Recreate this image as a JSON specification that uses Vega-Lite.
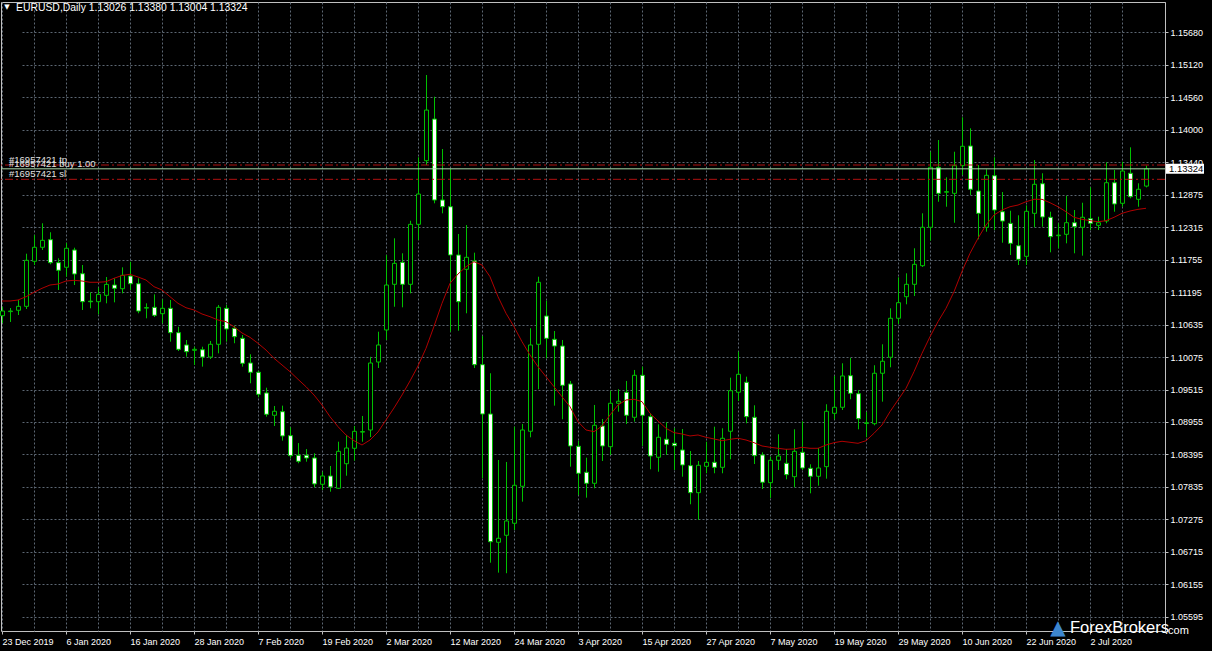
{
  "$schema": "https://vega.github.io/schema/vega-lite/v6.json",
  "width": 1164,
  "height": 629,
  "autosize": {"type": "none"},
  "padding": {"left": 1, "top": 2, "right": 47, "bottom": 20},
  "background": "#000000",
  "config": {
    "view": {"stroke": "#c0c0c0", "strokeWidth": 1},
    "font": "Liberation Sans",
    "axis": {"labelFont": "Liberation Sans"}
  },
  "datasets": {
    "bars": [
      {"d": "23 Dec 2019", "o": 1.10789, "h": 1.10944, "l": 1.10663, "c": 1.10870, "ma": 1.11043},
      {"d": "24 Dec 2019", "o": 1.10860, "h": 1.10922, "l": 1.10681, "c": 1.10870, "ma": 1.11043},
      {"d": "26 Dec 2019", "o": 1.10883, "h": 1.11060, "l": 1.10801, "c": 1.10951, "ma": 1.11060},
      {"d": "27 Dec 2019", "o": 1.10951, "h": 1.11859, "l": 1.10905, "c": 1.11745, "ma": 1.11117},
      {"d": "30 Dec 2019", "o": 1.11728, "h": 1.12182, "l": 1.11664, "c": 1.11970, "ma": 1.11193},
      {"d": "31 Dec 2019", "o": 1.11970, "h": 1.12384, "l": 1.11923, "c": 1.12090, "ma": 1.11262},
      {"d": "2 Jan 2020", "o": 1.12101, "h": 1.12229, "l": 1.11676, "c": 1.11704, "ma": 1.11319},
      {"d": "3 Jan 2020", "o": 1.11704, "h": 1.11780, "l": 1.11233, "c": 1.11573, "ma": 1.11336},
      {"d": "6 Jan 2020", "o": 1.11625, "h": 1.12044, "l": 1.11463, "c": 1.11953, "ma": 1.11388},
      {"d": "7 Jan 2020", "o": 1.11923, "h": 1.11963, "l": 1.11319, "c": 1.11509, "ma": 1.11400},
      {"d": "8 Jan 2020", "o": 1.11514, "h": 1.11664, "l": 1.10888, "c": 1.11031, "ma": 1.11388},
      {"d": "9 Jan 2020", "o": 1.11040, "h": 1.11192, "l": 1.10917, "c": 1.11030, "ma": 1.11366},
      {"d": "10 Jan 2020", "o": 1.11031, "h": 1.11272, "l": 1.10813, "c": 1.11158, "ma": 1.11366},
      {"d": "13 Jan 2020", "o": 1.11141, "h": 1.11457, "l": 1.11003, "c": 1.11330, "ma": 1.11376},
      {"d": "14 Jan 2020", "o": 1.11319, "h": 1.11435, "l": 1.11020, "c": 1.11262, "ma": 1.11435},
      {"d": "15 Jan 2020", "o": 1.11255, "h": 1.11624, "l": 1.11175, "c": 1.11486, "ma": 1.11483},
      {"d": "16 Jan 2020", "o": 1.11474, "h": 1.11721, "l": 1.11233, "c": 1.11341, "ma": 1.11504},
      {"d": "17 Jan 2020", "o": 1.11341, "h": 1.11435, "l": 1.10831, "c": 1.10870, "ma": 1.11457},
      {"d": "20 Jan 2020", "o": 1.10920, "h": 1.11003, "l": 1.10744, "c": 1.10930, "ma": 1.11405},
      {"d": "21 Jan 2020", "o": 1.10934, "h": 1.11158, "l": 1.10767, "c": 1.10796, "ma": 1.11290},
      {"d": "22 Jan 2020", "o": 1.10824, "h": 1.11072, "l": 1.10658, "c": 1.10917, "ma": 1.11233},
      {"d": "23 Jan 2020", "o": 1.10917, "h": 1.11060, "l": 1.10341, "c": 1.10496, "ma": 1.11117},
      {"d": "24 Jan 2020", "o": 1.10496, "h": 1.10599, "l": 1.10180, "c": 1.10209, "ma": 1.11003},
      {"d": "27 Jan 2020", "o": 1.10284, "h": 1.10370, "l": 1.10082, "c": 1.10168, "ma": 1.10927},
      {"d": "28 Jan 2020", "o": 1.10192, "h": 1.10254, "l": 1.09939, "c": 1.10209, "ma": 1.10888},
      {"d": "29 Jan 2020", "o": 1.10202, "h": 1.10254, "l": 1.09910, "c": 1.10076, "ma": 1.10819},
      {"d": "30 Jan 2020", "o": 1.10076, "h": 1.10353, "l": 1.10042, "c": 1.10296, "ma": 1.10772},
      {"d": "31 Jan 2020", "o": 1.10296, "h": 1.10974, "l": 1.10140, "c": 1.10934, "ma": 1.10715},
      {"d": "3 Feb 2020", "o": 1.10917, "h": 1.10974, "l": 1.10341, "c": 1.10560, "ma": 1.10686},
      {"d": "4 Feb 2020", "o": 1.10572, "h": 1.10617, "l": 1.10314, "c": 1.10427, "ma": 1.10599},
      {"d": "5 Feb 2020", "o": 1.10399, "h": 1.10456, "l": 1.09910, "c": 1.09968, "ma": 1.10491},
      {"d": "6 Feb 2020", "o": 1.09973, "h": 1.10123, "l": 1.09623, "c": 1.09813, "ma": 1.10416},
      {"d": "7 Feb 2020", "o": 1.09813, "h": 1.09840, "l": 1.09381, "c": 1.09433, "ma": 1.10313},
      {"d": "10 Feb 2020", "o": 1.09456, "h": 1.09547, "l": 1.09047, "c": 1.09088, "ma": 1.10197},
      {"d": "11 Feb 2020", "o": 1.09071, "h": 1.09231, "l": 1.08886, "c": 1.09140, "ma": 1.10054},
      {"d": "12 Feb 2020", "o": 1.09133, "h": 1.09237, "l": 1.08633, "c": 1.08714, "ma": 1.09939},
      {"d": "13 Feb 2020", "o": 1.08719, "h": 1.08864, "l": 1.08329, "c": 1.08374, "ma": 1.09823},
      {"d": "14 Feb 2020", "o": 1.08381, "h": 1.08591, "l": 1.08243, "c": 1.08277, "ma": 1.09692},
      {"d": "17 Feb 2020", "o": 1.08381, "h": 1.08488, "l": 1.08270, "c": 1.08334, "ma": 1.09564},
      {"d": "18 Feb 2020", "o": 1.08334, "h": 1.08415, "l": 1.07828, "c": 1.07886, "ma": 1.09421},
      {"d": "19 Feb 2020", "o": 1.07880, "h": 1.08097, "l": 1.07782, "c": 1.08023, "ma": 1.09248},
      {"d": "20 Feb 2020", "o": 1.08023, "h": 1.08196, "l": 1.07752, "c": 1.07834, "ma": 1.09046},
      {"d": "21 Feb 2020", "o": 1.07811, "h": 1.08615, "l": 1.07800, "c": 1.08449, "ma": 1.08874},
      {"d": "24 Feb 2020", "o": 1.08235, "h": 1.08730, "l": 1.08028, "c": 1.08506, "ma": 1.08731},
      {"d": "25 Feb 2020", "o": 1.08501, "h": 1.08886, "l": 1.08287, "c": 1.08794, "ma": 1.08632},
      {"d": "26 Feb 2020", "o": 1.08780, "h": 1.09059, "l": 1.08615, "c": 1.08790, "ma": 1.08558},
      {"d": "27 Feb 2020", "o": 1.08817, "h": 1.10080, "l": 1.08696, "c": 1.09973, "ma": 1.08644},
      {"d": "28 Feb 2020", "o": 1.09990, "h": 1.10513, "l": 1.09887, "c": 1.10284, "ma": 1.08782},
      {"d": "2 Mar 2020", "o": 1.10543, "h": 1.11837, "l": 1.10370, "c": 1.11319, "ma": 1.08990},
      {"d": "3 Mar 2020", "o": 1.11331, "h": 1.12125, "l": 1.10944, "c": 1.11693, "ma": 1.09197},
      {"d": "4 Mar 2020", "o": 1.11711, "h": 1.11866, "l": 1.10934, "c": 1.11331, "ma": 1.09421},
      {"d": "5 Mar 2020", "o": 1.11331, "h": 1.12428, "l": 1.11175, "c": 1.12366, "ma": 1.09663},
      {"d": "6 Mar 2020", "o": 1.12366, "h": 1.13523, "l": 1.12096, "c": 1.12889, "ma": 1.09921},
      {"d": "9 Mar 2020", "o": 1.13464, "h": 1.14943, "l": 1.13390, "c": 1.14338, "ma": 1.10227},
      {"d": "10 Mar 2020", "o": 1.14183, "h": 1.14568, "l": 1.12729, "c": 1.12786, "ma": 1.10606},
      {"d": "11 Mar 2020", "o": 1.12786, "h": 1.13666, "l": 1.12556, "c": 1.12670, "ma": 1.11003},
      {"d": "12 Mar 2020", "o": 1.12670, "h": 1.13321, "l": 1.10513, "c": 1.11837, "ma": 1.11348},
      {"d": "13 Mar 2020", "o": 1.11837, "h": 1.12199, "l": 1.10530, "c": 1.11031, "ma": 1.11509},
      {"d": "16 Mar 2020", "o": 1.11590, "h": 1.12354, "l": 1.10831, "c": 1.11797, "ma": 1.11635},
      {"d": "17 Mar 2020", "o": 1.11733, "h": 1.11877, "l": 1.09887, "c": 1.09944, "ma": 1.11721},
      {"d": "18 Mar 2020", "o": 1.09944, "h": 1.10439, "l": 1.07984, "c": 1.09093, "ma": 1.11664},
      {"d": "19 Mar 2020", "o": 1.09093, "h": 1.09796, "l": 1.06527, "c": 1.06889, "ma": 1.11462},
      {"d": "20 Mar 2020", "o": 1.06879, "h": 1.08299, "l": 1.06355, "c": 1.06948, "ma": 1.11117},
      {"d": "23 Mar 2020", "o": 1.07000, "h": 1.08265, "l": 1.06345, "c": 1.07247, "ma": 1.10831},
      {"d": "24 Mar 2020", "o": 1.07207, "h": 1.08874, "l": 1.07091, "c": 1.07863, "ma": 1.10599},
      {"d": "25 Mar 2020", "o": 1.07846, "h": 1.08921, "l": 1.07580, "c": 1.08817, "ma": 1.10341},
      {"d": "26 Mar 2020", "o": 1.08795, "h": 1.10572, "l": 1.08691, "c": 1.10284, "ma": 1.10111},
      {"d": "27 Mar 2020", "o": 1.10296, "h": 1.11462, "l": 1.09519, "c": 1.11366, "ma": 1.09909},
      {"d": "30 Mar 2020", "o": 1.10784, "h": 1.11048, "l": 1.10054, "c": 1.10399, "ma": 1.09737},
      {"d": "31 Mar 2020", "o": 1.10382, "h": 1.10525, "l": 1.09237, "c": 1.10266, "ma": 1.09564},
      {"d": "1 Apr 2020", "o": 1.10266, "h": 1.10370, "l": 1.09002, "c": 1.09588, "ma": 1.09391},
      {"d": "2 Apr 2020", "o": 1.09611, "h": 1.09663, "l": 1.08184, "c": 1.08541, "ma": 1.09219},
      {"d": "3 Apr 2020", "o": 1.08536, "h": 1.08632, "l": 1.07695, "c": 1.08070, "ma": 1.08960},
      {"d": "6 Apr 2020", "o": 1.08087, "h": 1.08339, "l": 1.07649, "c": 1.07897, "ma": 1.08817},
      {"d": "7 Apr 2020", "o": 1.07897, "h": 1.09249, "l": 1.07811, "c": 1.08898, "ma": 1.08788},
      {"d": "8 Apr 2020", "o": 1.08886, "h": 1.09007, "l": 1.08282, "c": 1.08541, "ma": 1.08886},
      {"d": "9 Apr 2020", "o": 1.08529, "h": 1.09495, "l": 1.08386, "c": 1.09278, "ma": 1.09076},
      {"d": "10 Apr 2020", "o": 1.09278, "h": 1.09520, "l": 1.09133, "c": 1.09313, "ma": 1.09248},
      {"d": "13 Apr 2020", "o": 1.09468, "h": 1.09663, "l": 1.08921, "c": 1.09071, "ma": 1.09335},
      {"d": "14 Apr 2020", "o": 1.09036, "h": 1.09853, "l": 1.08961, "c": 1.09761, "ma": 1.09347},
      {"d": "15 Apr 2020", "o": 1.09761, "h": 1.09910, "l": 1.08541, "c": 1.09071, "ma": 1.09306},
      {"d": "16 Apr 2020", "o": 1.09047, "h": 1.09105, "l": 1.08139, "c": 1.08368, "ma": 1.09105},
      {"d": "17 Apr 2020", "o": 1.08346, "h": 1.08915, "l": 1.08097, "c": 1.08691, "ma": 1.08972},
      {"d": "20 Apr 2020", "o": 1.08657, "h": 1.08950, "l": 1.08386, "c": 1.08570, "ma": 1.08846},
      {"d": "21 Apr 2020", "o": 1.08587, "h": 1.08851, "l": 1.08127, "c": 1.08546, "ma": 1.08771},
      {"d": "22 Apr 2020", "o": 1.08472, "h": 1.08834, "l": 1.08011, "c": 1.08213, "ma": 1.08748},
      {"d": "23 Apr 2020", "o": 1.08201, "h": 1.08454, "l": 1.07535, "c": 1.07735, "ma": 1.08714},
      {"d": "24 Apr 2020", "o": 1.07735, "h": 1.08282, "l": 1.07264, "c": 1.08208, "ma": 1.08731},
      {"d": "27 Apr 2020", "o": 1.08190, "h": 1.08615, "l": 1.08070, "c": 1.08259, "ma": 1.08691},
      {"d": "28 Apr 2020", "o": 1.08259, "h": 1.08874, "l": 1.08070, "c": 1.08173, "ma": 1.08662},
      {"d": "29 Apr 2020", "o": 1.08173, "h": 1.08846, "l": 1.08070, "c": 1.08674, "ma": 1.08632},
      {"d": "30 Apr 2020", "o": 1.08795, "h": 1.09720, "l": 1.08311, "c": 1.09495, "ma": 1.08656},
      {"d": "1 May 2020", "o": 1.09468, "h": 1.10168, "l": 1.09318, "c": 1.09778, "ma": 1.08674},
      {"d": "4 May 2020", "o": 1.09640, "h": 1.09737, "l": 1.08933, "c": 1.09047, "ma": 1.08644},
      {"d": "5 May 2020", "o": 1.09036, "h": 1.09243, "l": 1.08230, "c": 1.08374, "ma": 1.08598},
      {"d": "6 May 2020", "o": 1.08386, "h": 1.08432, "l": 1.07799, "c": 1.07915, "ma": 1.08541},
      {"d": "7 May 2020", "o": 1.07908, "h": 1.08356, "l": 1.07644, "c": 1.08294, "ma": 1.08519},
      {"d": "8 May 2020", "o": 1.08294, "h": 1.08743, "l": 1.08127, "c": 1.08368, "ma": 1.08501},
      {"d": "11 May 2020", "o": 1.08242, "h": 1.08489, "l": 1.07966, "c": 1.08046, "ma": 1.08484},
      {"d": "12 May 2020", "o": 1.08011, "h": 1.08829, "l": 1.07828, "c": 1.08449, "ma": 1.08489},
      {"d": "13 May 2020", "o": 1.08432, "h": 1.08967, "l": 1.08127, "c": 1.08161, "ma": 1.08519},
      {"d": "14 May 2020", "o": 1.08156, "h": 1.08225, "l": 1.07724, "c": 1.08018, "ma": 1.08501},
      {"d": "15 May 2020", "o": 1.08018, "h": 1.08506, "l": 1.07856, "c": 1.08161, "ma": 1.08501},
      {"d": "18 May 2020", "o": 1.08184, "h": 1.09261, "l": 1.07977, "c": 1.09140, "ma": 1.08558},
      {"d": "19 May 2020", "o": 1.09105, "h": 1.09749, "l": 1.09002, "c": 1.09209, "ma": 1.08598},
      {"d": "20 May 2020", "o": 1.09209, "h": 1.09968, "l": 1.09162, "c": 1.09749, "ma": 1.08622},
      {"d": "21 May 2020", "o": 1.09754, "h": 1.10060, "l": 1.09347, "c": 1.09450, "ma": 1.08605},
      {"d": "22 May 2020", "o": 1.09443, "h": 1.09508, "l": 1.08829, "c": 1.09012, "ma": 1.08587},
      {"d": "25 May 2020", "o": 1.08930, "h": 1.09128, "l": 1.08691, "c": 1.08940, "ma": 1.08632},
      {"d": "26 May 2020", "o": 1.08926, "h": 1.09934, "l": 1.08898, "c": 1.09796, "ma": 1.08760},
      {"d": "27 May 2020", "o": 1.09796, "h": 1.10296, "l": 1.09306, "c": 1.10003, "ma": 1.08903},
      {"d": "28 May 2020", "o": 1.10072, "h": 1.10917, "l": 1.09899, "c": 1.10745, "ma": 1.09133},
      {"d": "29 May 2020", "o": 1.10745, "h": 1.11452, "l": 1.10646, "c": 1.11014, "ma": 1.09335},
      {"d": "1 Jun 2020", "o": 1.11117, "h": 1.11521, "l": 1.10986, "c": 1.11331, "ma": 1.09536},
      {"d": "2 Jun 2020", "o": 1.11331, "h": 1.11953, "l": 1.11129, "c": 1.11676, "ma": 1.09823},
      {"d": "3 Jun 2020", "o": 1.11652, "h": 1.12556, "l": 1.11630, "c": 1.12315, "ma": 1.10140},
      {"d": "4 Jun 2020", "o": 1.12315, "h": 1.13619, "l": 1.12084, "c": 1.13350, "ma": 1.10427},
      {"d": "5 Jun 2020", "o": 1.13350, "h": 1.13821, "l": 1.12756, "c": 1.12901, "ma": 1.10686},
      {"d": "8 Jun 2020", "o": 1.12920, "h": 1.13178, "l": 1.12670, "c": 1.12930, "ma": 1.10917},
      {"d": "9 Jun 2020", "o": 1.12901, "h": 1.13619, "l": 1.12394, "c": 1.13378, "ma": 1.11203},
      {"d": "10 Jun 2020", "o": 1.13378, "h": 1.14213, "l": 1.13217, "c": 1.13713, "ma": 1.11555},
      {"d": "11 Jun 2020", "o": 1.13718, "h": 1.14023, "l": 1.12872, "c": 1.12971, "ma": 1.11866},
      {"d": "12 Jun 2020", "o": 1.12941, "h": 1.13390, "l": 1.12108, "c": 1.12556, "ma": 1.12125},
      {"d": "15 Jun 2020", "o": 1.12315, "h": 1.13316, "l": 1.12239, "c": 1.13212, "ma": 1.12354},
      {"d": "16 Jun 2020", "o": 1.13205, "h": 1.13523, "l": 1.12268, "c": 1.12613, "ma": 1.12527},
      {"d": "17 Jun 2020", "o": 1.12584, "h": 1.12924, "l": 1.12049, "c": 1.12423, "ma": 1.12613},
      {"d": "18 Jun 2020", "o": 1.12383, "h": 1.12601, "l": 1.11837, "c": 1.12038, "ma": 1.12670},
      {"d": "19 Jun 2020", "o": 1.11997, "h": 1.12522, "l": 1.11664, "c": 1.11762, "ma": 1.12699},
      {"d": "22 Jun 2020", "o": 1.11814, "h": 1.12694, "l": 1.11664, "c": 1.12591, "ma": 1.12756},
      {"d": "23 Jun 2020", "o": 1.12556, "h": 1.13476, "l": 1.12315, "c": 1.13057, "ma": 1.12798},
      {"d": "24 Jun 2020", "o": 1.13067, "h": 1.13247, "l": 1.12325, "c": 1.12493, "ma": 1.12798},
      {"d": "25 Jun 2020", "o": 1.12488, "h": 1.12584, "l": 1.11883, "c": 1.12153, "ma": 1.12739},
      {"d": "26 Jun 2020", "o": 1.12170, "h": 1.12384, "l": 1.11953, "c": 1.12180, "ma": 1.12670},
      {"d": "29 Jun 2020", "o": 1.12194, "h": 1.12860, "l": 1.12038, "c": 1.12394, "ma": 1.12584},
      {"d": "30 Jun 2020", "o": 1.12394, "h": 1.12613, "l": 1.11866, "c": 1.12325, "ma": 1.12487},
      {"d": "1 Jul 2020", "o": 1.12315, "h": 1.12739, "l": 1.11825, "c": 1.12488, "ma": 1.12453},
      {"d": "2 Jul 2020", "o": 1.12463, "h": 1.13005, "l": 1.12268, "c": 1.12384, "ma": 1.12429},
      {"d": "3 Jul 2020", "o": 1.12349, "h": 1.12498, "l": 1.12268, "c": 1.12394, "ma": 1.12411},
      {"d": "6 Jul 2020", "o": 1.12423, "h": 1.13436, "l": 1.12384, "c": 1.13084, "ma": 1.12429},
      {"d": "7 Jul 2020", "o": 1.13084, "h": 1.13304, "l": 1.12584, "c": 1.12717, "ma": 1.12487},
      {"d": "8 Jul 2020", "o": 1.12729, "h": 1.13447, "l": 1.12670, "c": 1.13286, "ma": 1.12556},
      {"d": "9 Jul 2020", "o": 1.13247, "h": 1.13695, "l": 1.12815, "c": 1.12843, "ma": 1.12596},
      {"d": "10 Jul 2020", "o": 1.12798, "h": 1.13074, "l": 1.12670, "c": 1.12971, "ma": 1.12625},
      {"d": "13 Jul 2020", "o": 1.13026, "h": 1.13380, "l": 1.13004, "c": 1.13324, "ma": 1.12643}
    ],
    "orders": [
      {"kind": "tp", "price": 1.13390, "label": "#16957421 tp", "d": "23 Dec 2019"},
      {"kind": "buy", "price": 1.13316, "label": "#16957421 buy 1.00", "d": "23 Dec 2019"},
      {"kind": "sl", "price": 1.13143, "label": "#16957421 sl", "d": "23 Dec 2019"},
      {"kind": "bid", "price": 1.13324, "label": "", "d": "23 Dec 2019"}
    ],
    "heading": [
      {"d": "23 Dec 2019", "price": 1.16099, "mark": "▼", "label": "EURUSD,Daily  1.13026 1.13380 1.13004 1.13324"}
    ]
  },
  "resolve": {"axis": {"x": "independent", "y": "independent"}},
  "layer": [
    {
      "data": {"name": "bars"},
      "mark": {"type": "rule", "color": "#00c000", "strokeWidth": 1, "xOffset": 0.5},
      "encoding": {
        "x": {
          "field": "d", "type": "ordinal", "sort": null,
          "scale": {"type": "point", "padding": 0, "range": [1, 1145]},
          "axis": {
            "orient": "bottom", "title": null, "labels": false, "ticks": false, "domain": false,
            "grid": true, "gridColor": "#5c6773", "gridDash": [2, 2], "gridWidth": 1,
            "values": ["23 Dec 2019", "30 Dec 2019", "6 Jan 2020", "10 Jan 2020", "16 Jan 2020", "22 Jan 2020", "28 Jan 2020", "3 Feb 2020", "7 Feb 2020", "13 Feb 2020", "19 Feb 2020", "25 Feb 2020", "2 Mar 2020", "6 Mar 2020", "12 Mar 2020", "18 Mar 2020", "24 Mar 2020", "30 Mar 2020", "3 Apr 2020", "9 Apr 2020", "15 Apr 2020", "21 Apr 2020", "27 Apr 2020", "1 May 2020", "7 May 2020", "13 May 2020", "19 May 2020", "25 May 2020", "29 May 2020", "4 Jun 2020", "10 Jun 2020", "16 Jun 2020", "22 Jun 2020", "26 Jun 2020", "2 Jul 2020", "8 Jul 2020"]
          }
        },
        "y": {
          "field": "l", "type": "quantitative", "title": null,
          "scale": {"domain": [1.05348, 1.16203], "zero": false, "nice": false},
          "axis": {
            "orient": "right", "title": null, "format": ".5f",
            "values": [1.05595, 1.06155, 1.06715, 1.07275, 1.07835, 1.08395, 1.08955, 1.09515, 1.10075, 1.10635, 1.11195, 1.11755, 1.12315, 1.12875, 1.1344, 1.14, 1.1456, 1.1512, 1.1568],
            "grid": true, "gridColor": "#5c6773", "gridDash": [2, 2], "gridWidth": 1,
            "labelColor": "#ffffff", "labelFont": "Liberation Sans", "labelFontSize": 9,
            "labelPadding": 2, "labelOverlap": false, "labelBaseline": "middle", "labelBound": false,
            "ticks": true, "tickSize": 3, "tickColor": "#c0c0c0",
            "domain": true, "domainColor": "#c0c0c0"
          }
        },
        "y2": {"field": "h"}
      }
    },
    {
      "data": {"name": "bars"},
      "mark": {"type": "bar", "width": 4, "stroke": "#00c000", "strokeWidth": 1, "xOffset": 0.5},
      "encoding": {
        "x": {
          "field": "d", "type": "ordinal", "sort": null,
          "scale": {"type": "point", "padding": 0, "range": [1, 1145]},
          "axis": {
            "orient": "bottom", "title": null, "grid": false, "domain": false,
            "labelAngle": 0, "labelAlign": "left", "labelBaseline": "top", "labelColor": "#ffffff",
            "labelFont": "Liberation Sans", "labelFontSize": 9, "labelPadding": 3, "labelOverlap": false, "labelBound": false,
            "ticks": true, "tickSize": 3, "tickColor": "#c0c0c0",
            "values": ["23 Dec 2019", "6 Jan 2020", "16 Jan 2020", "28 Jan 2020", "7 Feb 2020", "19 Feb 2020", "2 Mar 2020", "12 Mar 2020", "24 Mar 2020", "3 Apr 2020", "15 Apr 2020", "27 Apr 2020", "7 May 2020", "19 May 2020", "29 May 2020", "10 Jun 2020", "22 Jun 2020", "2 Jul 2020"]
          }
        },
        "y": {"field": "o", "type": "quantitative", "scale": {"domain": [1.05348, 1.16203], "zero": false, "nice": false}, "axis": null},
        "y2": {"field": "c"},
        "fill": {"condition": {"test": "datum.c > datum.o", "value": "#000000"}, "value": "#ffffff"}
      }
    },
    {
      "data": {"name": "bars"},
      "mark": {"type": "line", "color": "#b00000", "strokeWidth": 1},
      "encoding": {
        "x": {"field": "d", "type": "ordinal", "sort": null, "scale": {"type": "point", "padding": 0, "range": [1, 1145]}, "axis": null},
        "y": {"field": "ma", "type": "quantitative", "scale": {"domain": [1.05348, 1.16203], "zero": false, "nice": false}, "axis": null}
      }
    },
    {
      "data": {"name": "orders"},
      "transform": [{"filter": "datum.kind == 'tp' || datum.kind == 'sl'"}],
      "mark": {"type": "rule", "color": "#b01010", "strokeWidth": 1, "strokeDash": [8, 3, 2, 3]},
      "encoding": {
        "y": {"field": "price", "type": "quantitative", "scale": {"domain": [1.05348, 1.16203], "zero": false, "nice": false}, "axis": null}
      }
    },
    {
      "data": {"name": "orders"},
      "transform": [{"filter": "datum.kind == 'bid'"}],
      "mark": {"type": "rule", "color": "#a8d8a8", "strokeWidth": 1},
      "encoding": {
        "y": {"field": "price", "type": "quantitative", "scale": {"domain": [1.05348, 1.16203], "zero": false, "nice": false}, "axis": null}
      }
    },
    {
      "data": {"name": "orders"},
      "transform": [{"filter": "datum.label != ''"}],
      "mark": {"type": "text", "align": "left", "baseline": "alphabetic", "dx": 7, "dy": -2, "color": "#e0e0e0", "font": "Liberation Sans", "fontSize": 9.5},
      "encoding": {
        "x": {"field": "d", "type": "ordinal", "sort": null, "scale": {"type": "point", "padding": 0, "range": [1, 1145]}, "axis": null},
        "y": {"field": "price", "type": "quantitative", "scale": {"domain": [1.05348, 1.16203], "zero": false, "nice": false}, "axis": null},
        "text": {"field": "label"}
      }
    },
    {
      "data": {"name": "heading"},
      "mark": {"type": "text", "align": "center", "baseline": "middle", "dx": 5, "dy": -1, "color": "#ffffff", "font": "DejaVu Sans", "fontSize": 7},
      "encoding": {
        "x": {"field": "d", "type": "ordinal", "sort": null, "scale": {"type": "point", "padding": 0, "range": [1, 1145]}, "axis": null},
        "y": {"field": "price", "type": "quantitative", "scale": {"domain": [1.05348, 1.16203], "zero": false, "nice": false}, "axis": null},
        "text": {"field": "mark"}
      }
    },
    {
      "data": {"name": "heading"},
      "mark": {"type": "text", "align": "left", "baseline": "middle", "dx": 14, "color": "#ffffff", "font": "Liberation Sans", "fontSize": 10.4},
      "encoding": {
        "x": {"field": "d", "type": "ordinal", "sort": null, "scale": {"type": "point", "padding": 0, "range": [1, 1145]}, "axis": null},
        "y": {"field": "price", "type": "quantitative", "scale": {"domain": [1.05348, 1.16203], "zero": false, "nice": false}, "axis": null},
        "text": {"field": "label"}
      }
    },
    {
      "data": {"name": "bars"},
      "transform": [{"filter": "datum.d == '13 Jul 2020'"}],
      "mark": {"type": "point", "shape": "M2,-0.5H5.8V0.5H2Z", "size": 400, "filled": true, "fill": "#ffffff", "opacity": 1, "strokeWidth": 0},
      "encoding": {
        "x": {"field": "d", "type": "ordinal", "sort": null, "scale": {"type": "point", "padding": 0, "range": [1, 1145]}, "axis": null},
        "y": {"field": "c", "type": "quantitative", "scale": {"domain": [1.05348, 1.16203], "zero": false, "nice": false}, "axis": null}
      }
    },
    {
      "data": {"name": "bars"},
      "transform": [{"filter": "datum.d == '13 Jul 2020'"}],
      "mark": {"type": "text", "align": "left", "baseline": "middle", "dx": 23, "color": "#000000", "font": "Liberation Sans", "fontSize": 9.5},
      "encoding": {
        "x": {"field": "d", "type": "ordinal", "sort": null, "scale": {"type": "point", "padding": 0, "range": [1, 1145]}, "axis": null},
        "y": {"field": "c", "type": "quantitative", "scale": {"domain": [1.05348, 1.16203], "zero": false, "nice": false}, "axis": null},
        "text": {"field": "c", "format": ".5f"}
      }
    },
    {
      "data": {"values": [{"d": "26 Jun 2020", "price": 1.0540, "label": "▲"}]},
      "mark": {"type": "text", "align": "center", "baseline": "middle", "color": "#3d86d0", "font": "DejaVu Sans", "fontSize": 20},
      "encoding": {
        "x": {"field": "d", "type": "ordinal", "sort": null, "scale": {"type": "point", "padding": 0, "range": [1, 1145]}, "axis": null},
        "y": {"field": "price", "type": "quantitative", "scale": {"domain": [1.05348, 1.16203], "zero": false, "nice": false}, "axis": null},
        "text": {"field": "label"}
      }
    },
    {
      "data": {"values": [{"d": "26 Jun 2020", "price": 1.0540, "label": "ForexBrokers"}]},
      "mark": {"type": "text", "align": "left", "baseline": "middle", "dx": 12, "color": "#ffffff", "font": "Liberation Sans", "fontSize": 16.5},
      "encoding": {
        "x": {"field": "d", "type": "ordinal", "sort": null, "scale": {"type": "point", "padding": 0, "range": [1, 1145]}, "axis": null},
        "y": {"field": "price", "type": "quantitative", "scale": {"domain": [1.05348, 1.16203], "zero": false, "nice": false}, "axis": null},
        "text": {"field": "label"}
      }
    },
    {
      "data": {"values": [{"d": "26 Jun 2020", "price": 1.0540, "label": ".com"}]},
      "mark": {"type": "text", "align": "left", "baseline": "middle", "dx": 107, "dy": 3, "color": "#ffffff", "font": "Liberation Sans", "fontSize": 11},
      "encoding": {
        "x": {"field": "d", "type": "ordinal", "sort": null, "scale": {"type": "point", "padding": 0, "range": [1, 1145]}, "axis": null},
        "y": {"field": "price", "type": "quantitative", "scale": {"domain": [1.05348, 1.16203], "zero": false, "nice": false}, "axis": null},
        "text": {"field": "label"}
      }
    }
  ]
}
